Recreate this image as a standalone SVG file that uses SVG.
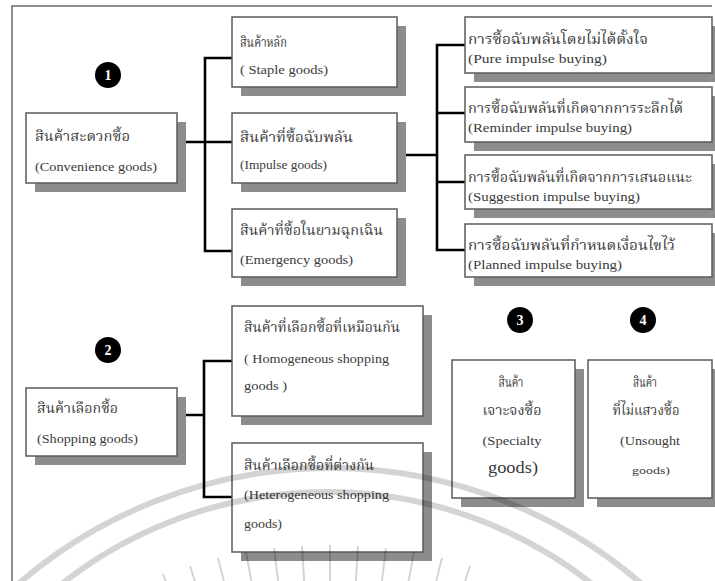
<svg xmlns="http://www.w3.org/2000/svg" width="715" height="581" viewBox="0 0 715 581">
<style>
  .frame{stroke:#6a6a6a;stroke-width:1.5;fill:none}
  .shadow{fill:#8c8c8c}
  .box{fill:#ffffff;stroke:#5a5a5a;stroke-width:1.5}
  .conn{stroke:#000;stroke-width:2.6;fill:none;stroke-linecap:square}
  .th{font-family:"Liberation Serif","Noto Serif Thai","Noto Sans Thai","DejaVu Serif",serif;font-size:14px;fill:#3a3a3a}
  .en{font-family:"Liberation Serif","Times New Roman",serif;font-size:12px;fill:#3a3a3a}
  .mid{text-anchor:middle}
  .badge circle{fill:#000}
  .badge text{font-family:"Liberation Serif",serif;font-size:14px;font-weight:bold;fill:#fff;text-anchor:middle}
  .wm{stroke:#000;stroke-opacity:0.17;fill:none}
</style>
<rect x="0" y="0" width="715" height="581" fill="#ffffff"/>
<path class="frame" d="M12,581 V6 H712"/>

<g id="connectors">
  <path class="conn" d="M177,142 H232 M205,58 V251 M205,58 H232 M205,251 H232"/>
  <path class="conn" d="M397,155 H437 M437,45 V250 M437,45 H465 M437,113 H465 M437,182 H465 M437,250 H465"/>
  <path class="conn" d="M177,415 H204 M204,361 V497 M204,361 H232 M204,497 H232"/>
</g>

<g id="badge1" class="badge"><circle cx="108" cy="75" r="13"/><text x="108" y="80">1</text></g>
<g id="badge2" class="badge"><circle cx="108" cy="350" r="13"/><text x="108" y="355">2</text></g>
<g id="badge3" class="badge"><circle cx="520" cy="320" r="13"/><text x="520" y="325">3</text></g>
<g id="badge4" class="badge"><circle cx="643" cy="320" r="13"/><text x="643" y="325">4</text></g>

<g id="convenience">
  <rect class="shadow" x="35" y="122" width="151" height="70"/>
  <rect class="box" x="26" y="113" width="151" height="70"/>
  <text class="th" x="35" y="141" textLength="95" lengthAdjust="spacingAndGlyphs">สินค้าสะดวกซื้อ</text>
  <text class="en" x="35" y="171" textLength="122" lengthAdjust="spacingAndGlyphs">(Convenience goods)</text>
</g>

<g id="staple">
  <rect class="shadow" x="241" y="26" width="165" height="70"/>
  <rect class="box" x="232" y="17" width="165" height="70"/>
  <text class="th" x="240" y="47" textLength="47" lengthAdjust="spacingAndGlyphs">สินค้าหลัก</text>
  <text class="en" x="240" y="74" textLength="88" lengthAdjust="spacingAndGlyphs">( Staple goods)</text>
</g>

<g id="impulse">
  <rect class="shadow" x="241" y="122" width="165" height="70"/>
  <rect class="box" x="232" y="113" width="165" height="70"/>
  <text class="th" x="240" y="142" textLength="113" lengthAdjust="spacingAndGlyphs">สินค้าที่ซื้อฉับพลัน</text>
  <text class="en" x="240" y="169" textLength="87" lengthAdjust="spacingAndGlyphs">(Impulse goods)</text>
</g>

<g id="emergency">
  <rect class="shadow" x="241" y="218" width="165" height="68"/>
  <rect class="box" x="232" y="209" width="165" height="68"/>
  <text class="th" x="240" y="235" textLength="143" lengthAdjust="spacingAndGlyphs">สินค้าที่ซื้อในยามฉุกเฉิน</text>
  <text class="en" x="240" y="264" textLength="113" lengthAdjust="spacingAndGlyphs">(Emergency goods)</text>
</g>

<g id="pure">
  <rect class="shadow" x="474" y="26" width="247" height="56"/>
  <rect class="box" x="465" y="17" width="247" height="56"/>
  <text class="th" x="468" y="44" textLength="180" lengthAdjust="spacingAndGlyphs">การซื้อฉับพลันโดยไม่ได้ตั้งใจ</text>
  <text class="en" x="468" y="63" textLength="139" lengthAdjust="spacingAndGlyphs">(Pure impulse buying)</text>
</g>

<g id="reminder">
  <rect class="shadow" x="474" y="96" width="247" height="55"/>
  <rect class="box" x="465" y="87" width="247" height="55"/>
  <text class="th" x="468" y="113" textLength="215" lengthAdjust="spacingAndGlyphs">การซื้อฉับพลันที่เกิดจากการระลึกได้</text>
  <text class="en" x="468" y="132" textLength="164" lengthAdjust="spacingAndGlyphs">(Reminder impulse buying)</text>
</g>

<g id="suggestion">
  <rect class="shadow" x="474" y="164" width="247" height="54"/>
  <rect class="box" x="465" y="155" width="247" height="54"/>
  <text class="th" x="468" y="182" textLength="224" lengthAdjust="spacingAndGlyphs">การซื้อฉับพลันที่เกิดจากการเสนอแนะ</text>
  <text class="en" x="468" y="201" textLength="172" lengthAdjust="spacingAndGlyphs">(Suggestion impulse buying)</text>
</g>

<g id="planned">
  <rect class="shadow" x="474" y="233" width="247" height="53"/>
  <rect class="box" x="465" y="224" width="247" height="53"/>
  <text class="th" x="468" y="250" textLength="207" lengthAdjust="spacingAndGlyphs">การซื้อฉับพลันที่กำหนดเงื่อนไขไว้</text>
  <text class="en" x="468" y="269" textLength="154" lengthAdjust="spacingAndGlyphs">(Planned impulse buying)</text>
</g>

<g id="shopping">
  <rect class="shadow" x="35" y="397" width="151" height="68"/>
  <rect class="box" x="26" y="388" width="151" height="68"/>
  <text class="th" x="37" y="413" textLength="81" lengthAdjust="spacingAndGlyphs">สินค้าเลือกซื้อ</text>
  <text class="en" x="37" y="443" textLength="101" lengthAdjust="spacingAndGlyphs">(Shopping goods)</text>
</g>

<g id="homogeneous">
  <rect class="shadow" x="241" y="315" width="191" height="110"/>
  <rect class="box" x="232" y="306" width="191" height="110"/>
  <text class="th" x="244" y="332" textLength="156" lengthAdjust="spacingAndGlyphs">สินค้าที่เลือกซื้อที่เหมือนกัน</text>
  <text class="en" x="244" y="363" textLength="145" lengthAdjust="spacingAndGlyphs">( Homogeneous  shopping</text>
  <text class="en" x="244" y="390" textLength="43" lengthAdjust="spacingAndGlyphs">goods )</text>
</g>

<g id="heterogeneous">
  <rect class="shadow" x="241" y="452" width="191" height="109"/>
  <rect class="box" x="232" y="443" width="191" height="109"/>
  <text class="th" x="244" y="470" textLength="130" lengthAdjust="spacingAndGlyphs">สินค้าเลือกซื้อที่ต่างกัน</text>
  <text class="en" x="244" y="499" textLength="145" lengthAdjust="spacingAndGlyphs">(Heterogeneous shopping</text>
  <text class="en" x="244" y="528" textLength="38" lengthAdjust="spacingAndGlyphs">goods)</text>
</g>

<g id="specialty">
  <rect class="shadow" x="461" y="369" width="123" height="138"/>
  <rect class="box" x="452" y="360" width="123" height="138"/>
  <text class="th mid" x="511" y="387" textLength="25" lengthAdjust="spacingAndGlyphs">สินค้า</text>
  <text class="th mid" x="512" y="415" textLength="59" lengthAdjust="spacingAndGlyphs">เจาะจงซื้อ</text>
  <text class="en mid" x="512" y="445" textLength="59" lengthAdjust="spacingAndGlyphs">(Specialty</text>
  <text class="en mid" x="513" y="473" style="font-size:17px" textLength="50" lengthAdjust="spacingAndGlyphs">goods)</text>
</g>

<g id="unsought">
  <rect class="shadow" x="597" y="369" width="124" height="138"/>
  <rect class="box" x="588" y="360" width="124" height="138"/>
  <text class="th mid" x="645" y="387" textLength="24" lengthAdjust="spacingAndGlyphs">สินค้า</text>
  <text class="th mid" x="646" y="415" textLength="67" lengthAdjust="spacingAndGlyphs">ที่ไม่แสวงซื้อ</text>
  <text class="en mid" x="650" y="445" textLength="60" lengthAdjust="spacingAndGlyphs">(Unsought</text>
  <text class="en mid" x="651" y="474" style="font-size:11px" textLength="38" lengthAdjust="spacingAndGlyphs">goods)</text>
</g>

<g id="watermark">
  <circle class="wm" cx="330" cy="945" r="477" stroke-width="6"/>
  <circle class="wm" cx="327" cy="920" r="428" stroke-width="6"/>
  <g class="wm" stroke-width="2">
    <path d="M330,1000 L330,545 M330,1000 L302,546 M330,1000 L274,548 M330,1000 L246,552 M330,1000 L218,558 M330,1000 L190,566 M330,1000 L163,574 M330,1000 L358,546 M330,1000 L386,548 M330,1000 L414,552 M330,1000 L442,558 M330,1000 L470,566"/>
  </g>
</g>
</svg>
